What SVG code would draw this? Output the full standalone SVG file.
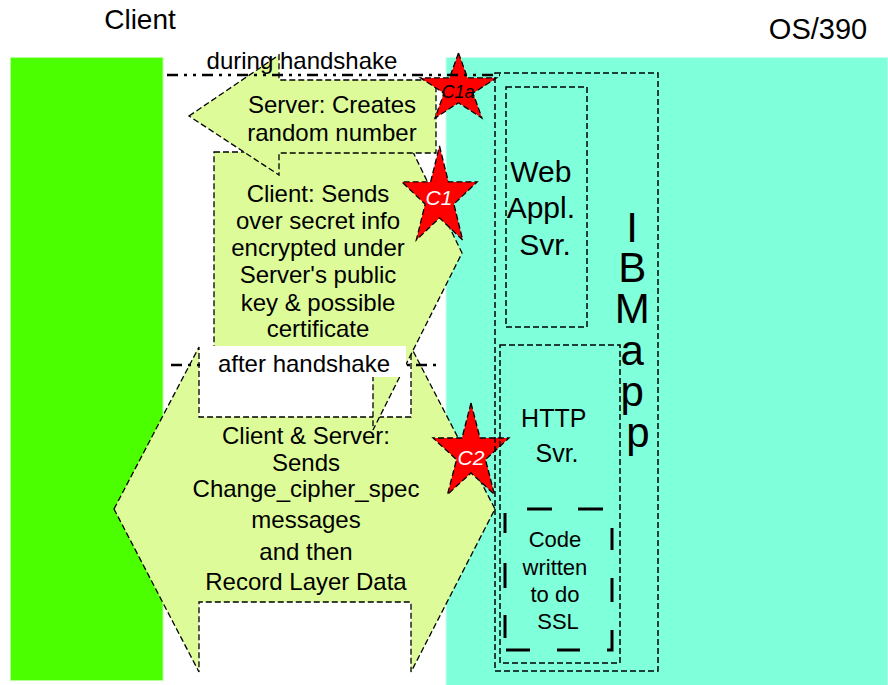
<svg xmlns="http://www.w3.org/2000/svg" width="888" height="685" viewBox="0 0 888 685">
  <style>
    text { font-family: "Liberation Sans", Arial, sans-serif; fill: #000; }
    .lbl { font-size: 24px; text-anchor: middle; }
    .big { font-size: 29px; text-anchor: middle; }
    .arrow { fill: #DDFC99; stroke: #000; stroke-width: 1.3; stroke-dasharray: 6 3; }
    .star { fill: #FF0000; stroke: #000; stroke-width: 1.3; stroke-dasharray: 6 3; }
    .star-lbl { font-style: italic; text-anchor: middle; }
    .box { fill: none; stroke: #000; stroke-width: 1.5; stroke-dasharray: 6 3; }
    .phase { fill: none; stroke: #000; stroke-width: 2.6; stroke-dasharray: 11 6 3 6 3 6; }
  </style>

  <!-- white page -->
  <rect x="0" y="0" width="888" height="685" fill="#FFFFFF"/>

  <!-- client and host zones -->
  <g id="client-zone">
    <rect x="10.5" y="57.5" width="152.5" height="623" fill="#4CFF00" stroke="#B4FF96" stroke-width="1"/>
    <text class="big" x="140" y="29" style="font-size:28px">Client</text>
  </g>
  <g id="host-zone">
    <rect x="446" y="57.5" width="442" height="628" fill="#80FFDB" stroke="#C8FFF0" stroke-width="1"/>
    <text class="big" x="818" y="39">OS/390</text>
  </g>

  <!-- handshake message arrows -->
  <g id="msg-exchange">
    <polygon class="arrow" points="114,509 199,347 199,417 411,417 411,347 495,509 411,672 411,602 199,602 199,672"/>
  </g>
  <g id="msg-secret">
    <polygon class="arrow" points="214,152 413,152 462,253 373,430 373,372 214,372"/>
  </g>
  <g id="msg-random">
    <polygon class="arrow" points="189,116 279,55 279,80 436,80 436,153 279,153 279,175"/>
  </g>

  <!-- arrow captions -->
  <g id="caption-random">
    <text class="lbl" x="332" y="113">Server: Creates</text>
    <text class="lbl" x="332" y="141">random number</text>
  </g>
  <g id="caption-secret">
    <text class="lbl" x="318" y="202">Client: Sends</text>
    <text class="lbl" x="318" y="229">over secret info</text>
    <text class="lbl" x="318" y="256">encrypted under</text>
    <text class="lbl" x="318" y="283">Server's public</text>
    <text class="lbl" x="318" y="311">key &amp; possible</text>
    <text class="lbl" x="318" y="337">certificate</text>
  </g>
  <g id="caption-exchange">
    <text class="lbl" x="306" y="444">Client &amp; Server:</text>
    <text class="lbl" x="306" y="471">Sends</text>
    <text class="lbl" x="306" y="497">Change_cipher_spec</text>
    <text class="lbl" x="306" y="528">messages</text>
    <text class="lbl" x="306" y="560">and then</text>
    <text class="lbl" x="306" y="590">Record Layer Data</text>
  </g>

  <!-- exposure points -->
  <g id="point-c1a">
    <polygon class="star" points="458.5,53 467.5,77.9 496.5,77.9 473,93.2 482,118.1 458.5,102.8 435,118.1 444,93.2 420.5,77.9 449.5,77.9"/>
    <text class="star-lbl" x="458" y="98" style="font-size:18px">C1a</text>
  </g>
  <g id="point-c1">
    <polygon class="star" points="439.5,146 448.4,181.9 477.1,181.9 453.9,204.1 462.7,240.1 439.5,217.9 416.3,240.1 425.1,204.1 401.9,181.9 430.6,181.9"/>
    <text class="star-lbl" x="439" y="205" style="font-size:21px; fill:#FFFFFF">C1</text>
  </g>
  <g id="point-c2">
    <polygon class="star" points="471,403 480,438 509,438 485.5,459.6 494.5,494.5 471,472.9 447.5,494.5 456.5,459.6 433,438 462,438"/>
    <text class="star-lbl" x="471" y="465" style="font-size:21px; fill:#FFFFFF">C2</text>
  </g>

  <!-- host application boxes -->
  <g id="ibm-app">
    <rect class="box" x="495" y="73" width="163" height="598"/>
    <text style="font-size:42px" text-anchor="middle">
      <tspan x="638" y="242">I</tspan>
      <tspan x="638" y="282">B</tspan>
      <tspan x="638" y="323">M</tspan>
      <tspan x="638" y="365">a</tspan>
      <tspan x="638" y="406">p</tspan>
      <tspan x="638" y="447">p</tspan>
    </text>
  </g>
  <g id="web-appl-svr">
    <rect class="box" x="506" y="87" width="81" height="240"/>
    <text style="font-size:30px" text-anchor="middle">
      <tspan x="545" y="182">Web</tspan>
      <tspan x="545" y="218">Appl.</tspan>
      <tspan x="545" y="255">Svr.</tspan>
    </text>
  </g>
  <g id="http-svr">
    <rect class="box" x="500" y="345" width="120" height="318"/>
    <text style="font-size:25px" text-anchor="middle">
      <tspan x="557" y="427">HTTP</tspan>
      <tspan x="557" y="462">Svr.</tspan>
    </text>
  </g>
  <g id="ssl-code">
    <path d="M527,509H552 M578,509H603 M612,528V550 M612,578V602 M612,630V650H607 M580,650H557 M530,650H506 M505,638V615 M505,588V563 M505,533V513" fill="none" stroke="#000" stroke-width="3"/>
    <text style="font-size:22px" text-anchor="middle">
      <tspan x="558" y="547">Code</tspan>
      <tspan x="558" y="575">written</tspan>
      <tspan x="558" y="602">to do</tspan>
      <tspan x="558" y="629">SSL</tspan>
    </text>
  </g>

  <!-- phase separators -->
  <g id="connectors">
    <line class="phase" x1="167" y1="75" x2="500" y2="75"/>
    <line class="phase" x1="171" y1="365" x2="438" y2="365"/>
  </g>
  <g id="phase-labels">
    <text class="lbl" x="302" y="69">during handshake</text>
    <rect x="202" y="346" width="204" height="31" fill="#FFFFFF"/>
    <text class="lbl" x="304" y="372">after handshake</text>
  </g>
</svg>
